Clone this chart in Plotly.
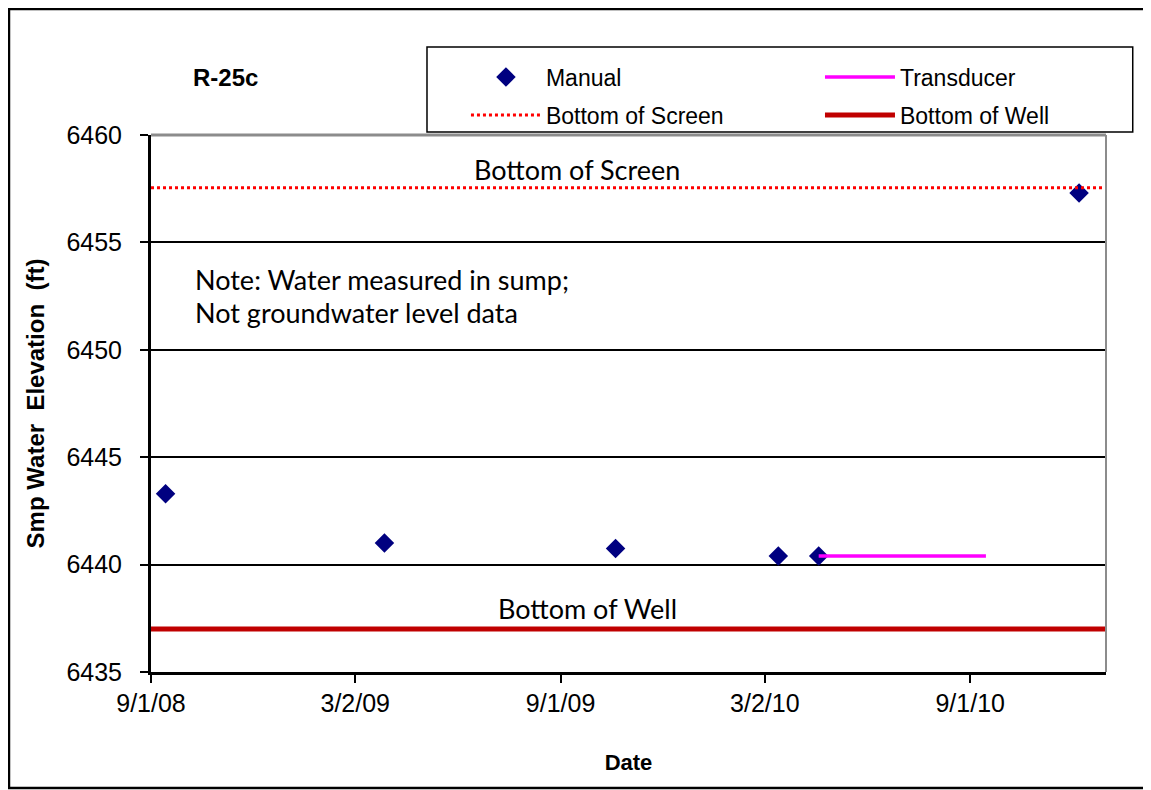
import plotly.graph_objects as go

# manual measurements (sump water)
manual_dates = ['2008-09-14', '2009-03-28', '2009-10-20', '2010-03-14', '2010-04-19', '2010-12-07']
manual_elev = [6443.3, 6441.0, 6440.75, 6440.4, 6440.4, 6457.3]

# transducer record
trans_dates = ['2010-04-19', '2010-09-15']
trans_elev = [6440.4, 6440.4]

# reference levels
axis_dates = ['2008-09-01', '2010-12-31']
screen_elev = [6457.55, 6457.55]
well_elev = [6437.0, 6437.0]

tick_dates = ['2008-09-01', '2009-03-02', '2009-09-01', '2010-03-02', '2010-09-01']
tick_text = ['9/1/08', '3/2/09', '9/1/09', '3/2/10', '9/1/10']

arial = 'Liberation Sans, Arial, sans-serif'
calibri = 'Lato, Carlito, sans-serif'
nb = '\u00a0'

fig = go.Figure()

fig.add_trace(go.Scatter(
    x=manual_dates, y=manual_elev, mode='markers', name='Manual',
    marker=dict(symbol='diamond', size=15, color='#000080'),
    legend='legend'
))
fig.add_trace(go.Scatter(
    x=trans_dates, y=trans_elev, mode='lines', name='Transducer',
    line=dict(color='#FF00FF', width=3.5),
    legend='legend2'
))
fig.add_trace(go.Scatter(
    x=axis_dates, y=screen_elev, mode='lines', name='Bottom of Screen',
    line=dict(color='#FF0000', width=3, dash='dot'),
    legend='legend3'
))
fig.add_trace(go.Scatter(
    x=axis_dates, y=well_elev, mode='lines', name='Bottom of Well',
    line=dict(color='#C00000', width=5),
    legend='legend4'
))

legend_style = dict(
    xanchor='left', yanchor='middle', itemwidth=70,
    font=dict(family=arial, size=23, color='black'),
    bgcolor='rgba(0,0,0,0)', borderwidth=0,
)

fig.update_layout(
    width=1151, height=790,
    paper_bgcolor='white', plot_bgcolor='white',
    margin=dict(l=143, r=53, t=127, b=126),
    showlegend=True,
    legend=dict(x=0.3298, y=1.108, **legend_style),
    legend2=dict(x=0.7005, y=1.108, **legend_style),
    legend3=dict(x=0.3298, y=1.037, **legend_style),
    legend4=dict(x=0.7005, y=1.037, **legend_style),
    xaxis=dict(
        type='date', range=[axis_dates[0], axis_dates[1]],
        tickvals=tick_dates, ticktext=tick_text,
        ticks='outside', ticklen=8, tickwidth=2, tickcolor='black',
        showline=True, linecolor='black', linewidth=3,
        showgrid=False, zeroline=False, automargin=False,
        tickfont=dict(family=arial, size=25, color='black'),
        ticklabelstandoff=-1,
        title=dict(text='<b>Date</b>', font=dict(family=arial, size=22, color='black'), standoff=39),
    ),
    yaxis=dict(
        range=[6435, 6460], dtick=5,
        ticks='outside', ticklen=8, tickwidth=2, tickcolor='black',
        showline=True, linecolor='black', linewidth=3,
        showgrid=True, gridcolor='black', gridwidth=2,
        zeroline=False, automargin=False,
        tickfont=dict(family=arial, size=25, color='black'),
        ticklabelstandoff=13,
        title=dict(text='<b>Smp Water' + nb * 2 + 'Elevation' + nb * 2 + '(ft)</b>',
                   font=dict(family=arial, size=24, color='black'), standoff=15),
    ),
    shapes=[
        # plot area top and right border (gray)
        dict(type='line', xref='paper', yref='paper', x0=0, x1=1, y0=1, y1=1,
             line=dict(color='#8C8C8C', width=3), layer='above'),
        dict(type='line', xref='paper', yref='paper', x0=1, x1=1, y0=0, y1=1,
             line=dict(color='#8C8C8C', width=2), layer='above'),
        # legend box
        dict(type='rect', xref='paper', yref='paper', x0=0.289, x1=1.028, y0=1.0056, y1=1.164,
             line=dict(color='black', width=1.5)),
        # outer chart border
        dict(type='rect', xref='paper', yref='paper', x0=-0.1487, x1=1.06, y0=-0.216, y1=1.2346,
             line=dict(color='black', width=2.5)),
    ],
    annotations=[
        dict(text='<b>R-25c</b>', xref='paper', yref='paper', x=0.0775, y=1.108,
             xanchor='center', yanchor='middle',
             showarrow=False, font=dict(family=arial, size=24, color='black')),
        dict(text='Bottom of Screen', x='2009-09-16', y=screen_elev[0],
             xanchor='center', yanchor='bottom',
             showarrow=False, font=dict(family=calibri, size=27, color='black')),
        dict(text='Bottom of Well', x='2009-09-25', y=well_elev[0],
             xanchor='center', yanchor='bottom', yshift=2,
             showarrow=False, font=dict(family=calibri, size=27, color='black')),
        dict(text='Note: Water measured in sump;', x='2008-10-08', y=6453.25,
             xanchor='left', yanchor='middle',
             showarrow=False, font=dict(family=calibri, size=27, color='black')),
        dict(text='Not groundwater level data', x='2008-10-08', y=6451.76,
             xanchor='left', yanchor='middle',
             showarrow=False, font=dict(family=calibri, size=27, color='black')),
    ],
)

fig.write_html('out.html')
